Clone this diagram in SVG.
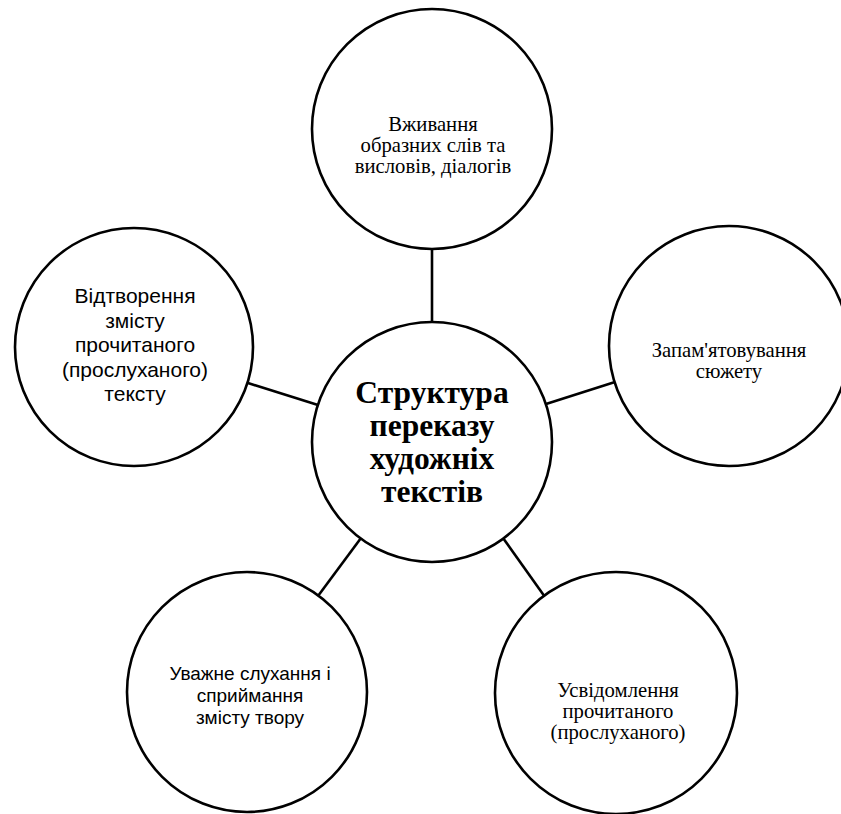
<svg xmlns="http://www.w3.org/2000/svg" width="841" height="814" viewBox="0 0 841 814">
<style>
.node{fill:#fff;stroke:#000;stroke-width:2.6}
.con{stroke:#000;stroke-width:2.6;fill:none}
.serif{font-family:"Liberation Serif","Times New Roman",serif;font-size:20.7px;fill:#000;text-anchor:middle}
.sans{font-family:"Liberation Sans",Arial,sans-serif;font-size:21px;fill:#000;text-anchor:middle}
.sans2{font-family:"Liberation Sans",Arial,sans-serif;font-size:19px;fill:#000;text-anchor:middle}
.title{font-family:"Liberation Serif","Times New Roman",serif;font-size:31.5px;font-weight:bold;fill:#000;text-anchor:middle}
</style>
<rect width="841" height="814" fill="#fff"/>
<g id="connectors">
<line class="con" x1="432" y1="321" x2="432" y2="249"/>
<line class="con" x1="318" y1="405" x2="248" y2="383"/>
<line class="con" x1="546" y1="404" x2="615" y2="382"/>
<line class="con" x1="361" y1="538" x2="318" y2="596"/>
<line class="con" x1="503" y1="538" x2="545" y2="597"/>
</g>
<g id="node-center">
<circle class="node" cx="432" cy="442" r="120"/>
<text class="title" x="432" y="403">Структура</text>
<text class="title" x="432" y="436">переказу</text>
<text class="title" x="432" y="469">художніх</text>
<text class="title" x="432" y="502">текстів</text>
</g>
<g id="node-top">
<circle class="node" cx="432" cy="129" r="120"/>
<text class="serif" x="433" y="131">Вживання</text>
<text class="serif" x="433" y="152">образних слів та</text>
<text class="serif" x="433" y="173">висловів, діалогів</text>
</g>
<g id="node-left">
<circle class="node" cx="134" cy="347" r="119"/>
<text class="sans" x="135" y="303">Відтворення</text>
<text class="sans" x="135" y="328">змісту</text>
<text class="sans" x="135" y="352">прочитаного</text>
<text class="sans" x="135" y="377">(прослуханого)</text>
<text class="sans" x="135" y="401">тексту</text>
</g>
<g id="node-right">
<circle class="node" cx="729" cy="346" r="120"/>
<text class="serif" x="729" y="357">Запам'ятовування</text>
<text class="serif" x="729" y="378">сюжету</text>
</g>
<g id="node-bottom-left">
<circle class="node" cx="247" cy="692" r="120"/>
<text class="sans2" x="250" y="680">Уважне слухання і</text>
<text class="sans2" x="250" y="702">сприймання</text>
<text class="sans2" x="250" y="724">змісту твору</text>
</g>
<g id="node-bottom-right">
<circle class="node" cx="616" cy="693" r="121"/>
<text class="serif" x="618" y="697">Усвідомлення</text>
<text class="serif" x="618" y="718">прочитаного</text>
<text class="serif" x="618" y="739">(прослуханого)</text>
</g>
</svg>
